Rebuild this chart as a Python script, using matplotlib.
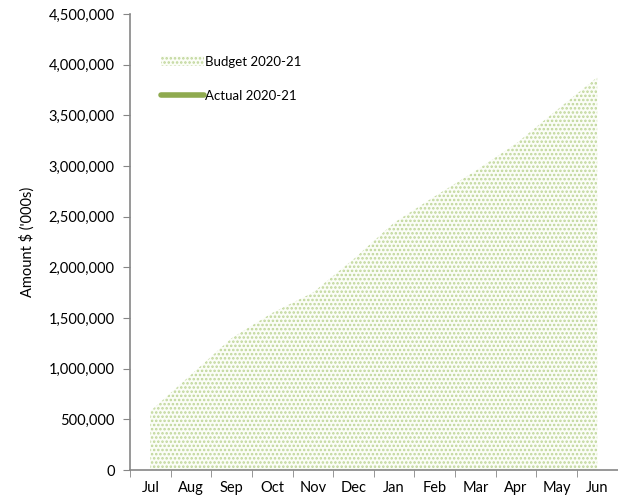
import matplotlib
matplotlib.use('Agg')
import matplotlib.pyplot as plt
import matplotlib.ticker as mticker
import numpy as np

plt.rcParams['font.family'] = ['Lato', 'DejaVu Sans']
plt.rcParams['hatch.linewidth'] = 1.2

months = ['Jul', 'Aug', 'Sep', 'Oct', 'Nov', 'Dec', 'Jan', 'Feb', 'Mar', 'Apr', 'May', 'Jun']
budget = [580000, 940000, 1300000, 1550000, 1750000, 2080000,
          2440000, 2700000, 2950000, 3220000, 3550000, 3875000]
actual = []  # no actuals recorded yet

fig = plt.figure(figsize=(6.18, 5.04), dpi=100)
ax = fig.add_axes([130 / 618, 34 / 504, 487.5 / 618, 456 / 504])

x = np.arange(len(months))
ax.fill_between(x, 0, budget, facecolor='#fbfdf7', edgecolor='#bfd699',
                hatch='....', linewidth=0, label='Budget 2020-21')
ax.plot(np.arange(len(actual)), actual, color='#8faa4f', linewidth=4,
        solid_capstyle='round', label='Actual 2020-21')

ax.set_xlim(-0.5, 11.5)
ax.set_ylim(0, 4500000)
ax.yaxis.set_major_locator(mticker.MultipleLocator(500000))
ax.yaxis.set_major_formatter(mticker.FuncFormatter(lambda v, p: f'{int(v):,}'))

ax.set_xticks(x)
ax.set_xticklabels(months)
ax.set_xticks(np.arange(-0.5, 12, 1), minor=True)
ax.tick_params(axis='x', which='major', length=0, pad=8)
ax.tick_params(axis='x', which='minor', length=5, color='#868686')
ax.tick_params(axis='y', length=5, color='#868686', pad=6)
ax.tick_params(labelsize=10.5, labelcolor='#000000')

for s in ['top', 'right']:
    ax.spines[s].set_visible(False)
for s in ['left', 'bottom']:
    ax.spines[s].set_color('#868686')
    ax.spines[s].set_linewidth(1.2)

ax.set_ylabel("Amount $ ('000s)", fontsize=10.5, labelpad=10)

ax.legend(loc='upper left', bbox_to_anchor=(0.04, 0.935), frameon=False,
          fontsize=9.5, handlelength=3.2, handletextpad=0.1, labelspacing=1.7)

fig.savefig('out.png', dpi=100)
